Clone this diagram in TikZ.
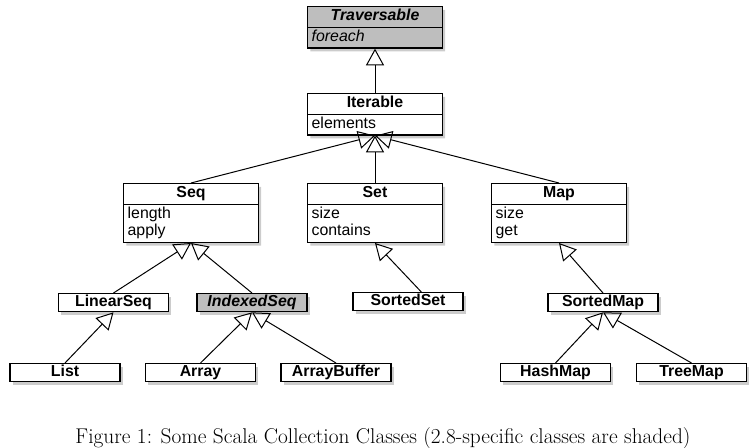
\documentclass[tikz,border=0pt]{standalone}
\usepackage{fontspec}
\newfontfamily\umlfont{Liberation Sans}
\usetikzlibrary{shapes.multipart,shadows,arrows.meta}

\tikzset{
  umlshadow/.style={drop shadow={shadow xshift=2pt,shadow yshift=-2.5pt,opacity=0.4}},
  umlclass/.style={rectangle split, rectangle split parts=2, rectangle split part align={center,left},
    draw=black, line width=1pt, fill=white, umlshadow, align=left, minimum width=101pt,
    inner xsep=3pt, inner ysep=0.75pt, anchor=north, font=\umlfont\fontsize{11.9}{13}\selectfont},
  umlbox/.style={rectangle, draw=black, line width=1pt, fill=white, umlshadow, minimum width=82.5pt,
    minimum height=13.5pt, inner sep=0pt, anchor=north, font=\umlfont\bfseries\fontsize{11.9}{13}\selectfont},
  shaded/.style={fill={rgb, 255:red, 190; green, 190; blue, 190 }},
  inherit/.style={-{Triangle[open,length=12.5pt,width=13.5pt]}, line width=0.75pt}
}

\begin{document}
\begin{tikzpicture}[x=0.75pt,y=0.75pt,yscale=-1,xscale=1]
\useasboundingbox (0,0) rectangle (756,448);

% Class Nodes
\node [umlclass,shaded] (Traversable) at (375,6) {\textbf{\textit{\strut Traversable}} \nodepart{two} \textit{\strut foreach}};
\node [umlclass] (Iterable) at (375,93) {\textbf{\strut Iterable} \nodepart{two} \strut elements};
\node [umlclass] (Seq) at (191,183) {\textbf{\strut Seq} \nodepart{two} \strut length\\\strut apply};
\node [umlclass] (Set) at (375,183) {\textbf{\strut Set} \nodepart{two} \strut size\\\strut contains};
\node [umlclass] (Map) at (559,183) {\textbf{\strut Map} \nodepart{two} \strut size\\\strut get};

% Box Nodes
\node [umlbox] (LinearSeq) at (113.5,293) {\strut LinearSeq};
\node [umlbox,shaded] (IndexedSeq) at (252,293) {\itshape\strut IndexedSeq};
\node [umlbox] (SortedSet) at (408,292) {\strut SortedSet};
\node [umlbox] (SortedMap) at (603,293) {\strut SortedMap};
\node [umlbox] (List) at (65,363) {\strut List};
\node [umlbox] (Array) at (200.5,363) {\strut Array};
\node [umlbox] (ArrayBuffer) at (336,363) {\strut ArrayBuffer};
\node [umlbox] (HashMap) at (555.5,363) {\strut HashMap};
\node [umlbox] (TreeMap) at (691.5,363) {\strut TreeMap};

% Inheritance Lines
\draw [inherit] (Iterable.north) -- (Traversable.south);
\draw [inherit] (Seq.north) -- (Iterable.south);
\draw [inherit] (Set.north) -- (Iterable.south);
\draw [inherit] (Map.north) -- (Iterable.south);
\draw [inherit] (LinearSeq.north) -- (Seq.south);
\draw [inherit] (IndexedSeq.north) -- (Seq.south);
\draw [inherit] ([xshift=10pt]SortedSet.north) -- (Set.south);
\draw [inherit] (SortedMap.north) -- (Map.south);
\draw [inherit] (List.north) -- (LinearSeq.south);
\draw [inherit] (Array.north) -- (IndexedSeq.south);
\draw [inherit] (ArrayBuffer.north) -- (IndexedSeq.south);
\draw [inherit] (HashMap.north) -- (SortedMap.south);
\draw [inherit] (TreeMap.north) -- (SortedMap.south);

% Text Node
\node [font=\fontsize{16}{19}\selectfont] (caption) at (383,438) {Figure 1: Some Scala Collection Classes (2.8-specific classes are shaded)};

\end{tikzpicture}
\end{document}
